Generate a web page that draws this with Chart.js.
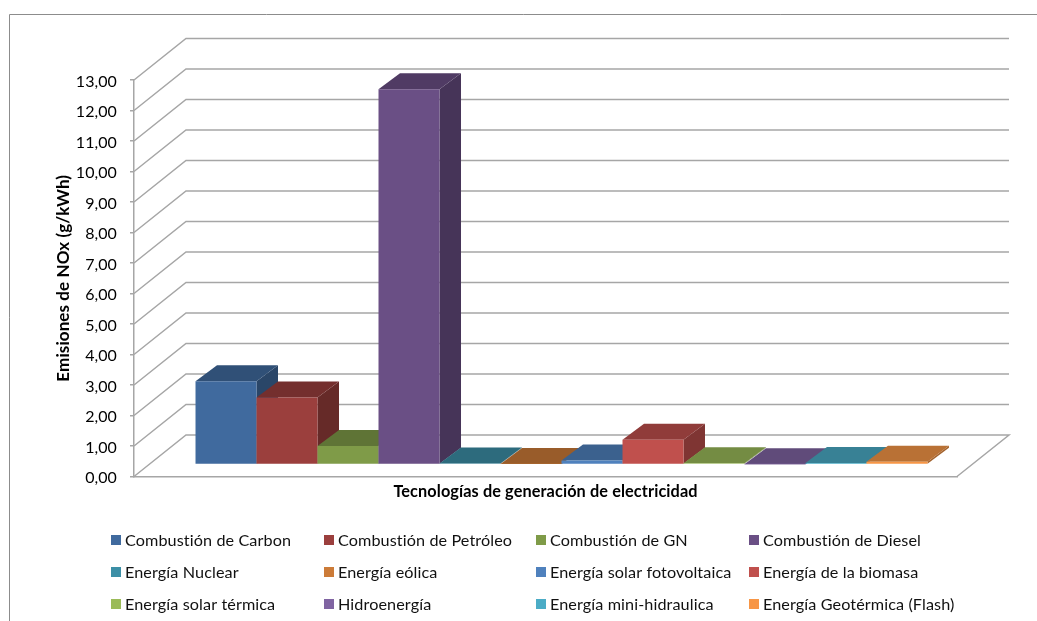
<!DOCTYPE html>
<html>
<head>
<meta charset="utf-8">
<style>
  html, body { margin: 0; padding: 0; background: #fff; }
  #wrap { position: relative; width: 1037px; height: 621px; }
</style>
<script src="https://cdn.jsdelivr.net/npm/chart.js@4/dist/chart.umd.min.js"></script>
</head>
<body>
<div id="wrap"><canvas id="c" width="1037" height="621"></canvas></div>
<script>
const categories = ['Tecnologías'];
const technologies = [
  'Combustión de Carbon', 'Combustión de Petróleo', 'Combustión de GN', 'Combustión de Diesel',
  'Energía Nuclear', 'Energía eólica', 'Energía solar fotovoltaica', 'Energía de la biomasa',
  'Energía solar térmica', 'Hidroenergía', 'Energía mini-hidraulica', 'Energía Geotérmica (Flash)'
];
const noxValues = [2.73, 2.2, 0.61, 12.3, 0.03, 0.02, 0.13, 0.81, 0.04, 0.01, 0.05, 0.09];
const colors = [
  '#406A9E', '#9B3F3D', '#7F9B48', '#6A4F85',
  '#3C8FA6', '#CC7B38', '#4F81BD', '#C0504D',
  '#9BBB59', '#8064A2', '#4BACC6', '#F79646'
];
const yTicksMax = 13;

// Perspective of the box: wall offset from the front plane, bar plane and bar depth
const WALL = { dx: 52, dy: -41.5 };
const BAR_PLANE = { dx: 16, dy: -12 };
const BAR_DEPTH = { dx: 21.5, dy: -16 };
const GRID = '#a6a6a6';

function shade(hex, f) {
  const n = parseInt(hex.slice(1), 16);
  const c = s => Math.round(((n >> s) & 255) * f);
  return `rgb(${c(16)},${c(8)},${c(0)})`;
}

function poly(ctx, pts, fill) {
  ctx.beginPath();
  pts.forEach((p, i) => i ? ctx.lineTo(p[0], p[1]) : ctx.moveTo(p[0], p[1]));
  ctx.closePath();
  ctx.fillStyle = fill;
  ctx.fill();
}

// Outer frame of the chart object (open on the right and at the bottom)
const framePlugin = {
  id: 'frame',
  beforeDraw(chart) {
    const ctx = chart.ctx;
    // A tiny tracking value keeps "ti" and "fi" as separate letters in every label
    ctx.letterSpacing = '0.1px';
    ctx.save();
    ctx.strokeStyle = '#8c8c8c';
    ctx.lineWidth = 1;
    ctx.beginPath();
    ctx.moveTo(9.5, 621);
    ctx.lineTo(9.5, 14.5);
    ctx.lineTo(1037, 14.5);
    ctx.stroke();
    ctx.restore();
  }
};

// Side walls and floor of the 3D box, following the value scale
const boxPlugin = {
  id: 'box',
  beforeDatasetsDraw(chart) {
    const { ctx, scales: { x, y } } = chart;
    ctx.save();
    ctx.strokeStyle = GRID;
    ctx.lineWidth = 1.5;
    y.ticks.forEach(t => {
      const py = y.getPixelForValue(t.value);
      ctx.beginPath();
      ctx.moveTo(x.left, py);
      ctx.lineTo(x.left + WALL.dx, py + WALL.dy);
      ctx.lineTo(x.right + WALL.dx, py + WALL.dy);
      if (t.value === 0) {
        ctx.lineTo(x.right, py);
      }
      ctx.stroke();
    });
    ctx.restore();
  }
};

// Draws the bars left to right so that each one hides the side of its neighbour
const barsPlugin = {
  id: 'bars3d',
  beforeDatasetsDraw(chart) {
    const ctx = chart.ctx;
    ctx.save();
    ctx.translate(BAR_PLANE.dx, BAR_PLANE.dy);
    chart.data.datasets.forEach((ds, i) => {
      const meta = chart.getDatasetMeta(i);
      meta.data.forEach(el => {
        const { x, y, base, width } = el.getProps(['x', 'y', 'base', 'width'], true);
        const l = x - width / 2, r = x + width / 2;
        const d = BAR_DEPTH;
        poly(ctx, [[r, y], [r + d.dx, y + d.dy], [r + d.dx, base + d.dy], [r, base]], shade(colors[i], 0.66));
        poly(ctx, [[l, y], [l + d.dx, y + d.dy], [r + d.dx, y + d.dy], [r, y]], shade(colors[i], 0.75));
      });
      meta.controller.draw();
    });
    ctx.restore();
    return false;
  }
};

// Four-column legend below the chart
const legendPlugin = {
  id: 'columnLegend',
  afterDraw(chart) {
    const ctx = chart.ctx;
    const colsX = [111, 324, 536, 749];
    const rowsY = [540, 572, 604];
    ctx.save();
    ctx.font = '16.2px Lato';
    ctx.textBaseline = 'middle';
    chart.data.datasets.forEach((ds, i) => {
      const cx = colsX[i % 4], cy = rowsY[Math.floor(i / 4)];
      ctx.fillStyle = ds.backgroundColor;
      ctx.fillRect(cx, cy - 5, 10, 10);
      ctx.fillStyle = '#111';
      ctx.fillText(ds.label, cx + 14, cy + 0.5);
    });
    ctx.restore();
  }
};

new Chart(document.getElementById('c'), {
  type: 'bar',
  data: {
    labels: categories,
    datasets: technologies.map((name, i) => ({
      label: name,
      data: [noxValues[i]],
      backgroundColor: colors[i],
      borderWidth: 0,
      barPercentage: 1,
      categoryPercentage: 0.8894
    }))
  },
  plugins: [framePlugin, boxPlugin, barsPlugin, legendPlugin],
  options: {
    responsive: false,
    animation: false,
    layout: { padding: { left: 0, right: 80, top: 80, bottom: 104.5 } },
    plugins: { legend: { display: false }, tooltip: { enabled: false } },
    scales: {
      x: {
        afterFit(s) { s.height = 40; },
        grid: { display: false },
        border: { display: true, color: GRID, width: 1.5 },
        ticks: { display: false },
        title: {
          display: true,
          text: 'Tecnologías de generación de electricidad',
          color: '#000',
          font: { family: 'Lato', size: 16.3, weight: 'bold' },
          padding: { top: 0, bottom: 15 }
        }
      },
      y: {
        min: 0,
        max: yTicksMax,
        afterFit(s) { s.width = 134; },
        grid: { display: true, drawOnChartArea: false, drawTicks: true, tickLength: 4, color: GRID, lineWidth: 1.5 },
        border: { display: true, color: GRID, width: 1.5 },
        ticks: {
          stepSize: 1,
          padding: 13,
          labelOffset: 1.5,
          color: '#000',
          font: { family: 'Lato', size: 16 },
          callback: v => v.toFixed(2).replace('.', ',')
        },
        title: {
          display: true,
          text: 'Emisiones de NOx (g/kWh)',
          color: '#000',
          font: { family: 'Lato', size: 17, weight: 'bold' },
          padding: { top: 53, bottom: 0 }
        }
      }
    }
  }
});
</script>
</body>
</html>
